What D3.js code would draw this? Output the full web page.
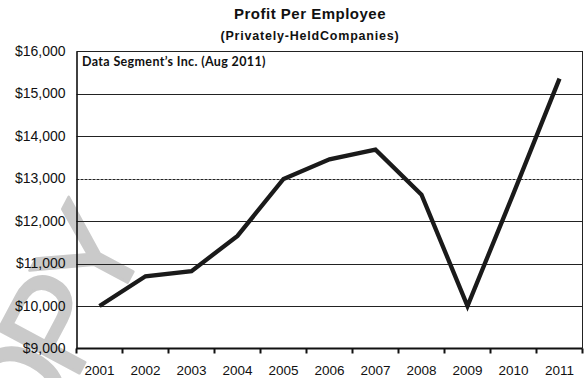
<!DOCTYPE html>
<html>
<head>
<meta charset="utf-8">
<script src="https://cdn.jsdelivr.net/npm/d3@7"></script>
<style>
  html, body { margin: 0; padding: 0; background: #fff; }
  svg { display: block; }
</style>
</head>
<body>
<svg id="chart" width="586" height="378"></svg>
<script>
// Profit per employee, privately-held companies
const years = ["2001", "2002", "2003", "2004", "2005", "2006", "2007", "2008", "2009", "2010", "2011"];
const profit = [10000, 10700, 10820, 11650, 12990, 13450, 13680, 12620, 10000, 12650, 15350];
const yTicks = [9000, 10000, 11000, 12000, 13000, 14000, 15000, 16000];

const W = 586, H = 378;
const plot = { left: 76.5, right: 582.5, top: 51, bottom: 348.5 };

const svg = d3.select("#chart");

const x = d3.scaleBand().domain(years).range([plot.left, plot.right]).padding(0);
const y = d3.scaleLinear().domain([9000, 16000]).range([plot.bottom, plot.top]);

// Faint diagonal watermark behind everything
svg.append("text")
  .attr("transform", "translate(145,250) rotate(-62)")
  .attr("text-anchor", "end")
  .attr("font-family", "Liberation Sans, Arial, sans-serif")
  .attr("font-size", 134)
  .attr("letter-spacing", -14)
  .attr("fill", "#cacaca")
  .attr("stroke", "#cacaca")
  .attr("stroke-width", 2.5)
  .attr("stroke-linejoin", "round")
  .text("COPY");

// Titles
svg.append("text")
  .attr("x", 310).attr("y", 19)
  .attr("text-anchor", "middle")
  .attr("font-family", "Liberation Sans, Arial, sans-serif")
  .attr("font-weight", "bold")
  .attr("font-size", 15)
  .attr("letter-spacing", 0.5)
  .attr("fill", "#111")
  .text("Profit Per Employee");

svg.append("text")
  .attr("x", 310).attr("y", 40)
  .attr("text-anchor", "middle")
  .attr("font-family", "Liberation Sans, Arial, sans-serif")
  .attr("font-weight", "bold")
  .attr("font-size", 12.5)
  .attr("letter-spacing", 0.8)
  .attr("fill", "#111")
  .text("(Privately-HeldCompanies)");

// Horizontal gridlines
svg.append("g")
  .selectAll("line")
  .data(yTicks.filter(d => d > 9000))
  .join("line")
  .attr("x1", plot.left).attr("x2", plot.right)
  .attr("y1", d => Math.round(y(d)) + 0.5).attr("y2", d => Math.round(y(d)) + 0.5)
  .attr("stroke", "#222")
  .attr("stroke-width", 1)
  .attr("stroke-dasharray", d => d === 13000 ? "3,1" : null);

// Right border
svg.append("line")
  .attr("x1", plot.right).attr("x2", plot.right)
  .attr("y1", plot.top).attr("y2", plot.bottom)
  .attr("stroke", "#222").attr("stroke-width", 1);

// Y axis with dollar labels
const yAxis = d3.axisLeft(y)
  .tickValues(yTicks)
  .tickSize(0)
  .tickPadding(11)
  .tickFormat(d => "$" + d3.format(",")(d));

const gy = svg.append("g")
  .attr("transform", `translate(${plot.left},0)`)
  .call(yAxis);
gy.select(".domain").attr("stroke", "#111").attr("stroke-width", 1.6);
gy.selectAll("text")
  .attr("font-family", "Liberation Sans, Arial, sans-serif")
  .attr("font-size", 14)
  .attr("fill", "#111");

// X axis: ticks at category boundaries, labels centered in each band
const gx = svg.append("g")
  .attr("transform", `translate(0,${plot.bottom})`);
gx.append("line")
  .attr("x1", plot.left).attr("x2", plot.right)
  .attr("stroke", "#111").attr("stroke-width", 2);
const bounds = years.map(d => x(d)).concat([x(years[years.length - 1]) + x.bandwidth()]);
gx.selectAll("line.tick")
  .data(bounds)
  .join("line")
  .attr("class", "tick")
  .attr("x1", d => d).attr("x2", d => d)
  .attr("y1", 0).attr("y2", 5)
  .attr("stroke", "#111").attr("stroke-width", 2);
gx.selectAll("text")
  .data(years)
  .join("text")
  .attr("x", d => x(d) + x.bandwidth() / 2)
  .attr("y", 26)
  .attr("text-anchor", "middle")
  .attr("font-family", "Liberation Sans, Arial, sans-serif")
  .attr("font-size", 13.5)
  .attr("fill", "#111")
  .text(d => d);

// Source note inside plot
svg.append("text")
  .attr("x", 82).attr("y", 66)
  .attr("font-family", "Lato, 'Open Sans', sans-serif")
  .attr("font-weight", "bold")
  .attr("font-size", 12.5)
  .attr("letter-spacing", 0.35)
  .attr("fill", "#111")
  .text("Data Segment\u2019s Inc. (Aug 2011)");

// Profit line
const line = d3.line()
  .x((d, i) => x(years[i]) + x.bandwidth() / 2)
  .y(d => y(d));

svg.append("path")
  .datum(profit)
  .attr("d", line)
  .attr("fill", "none")
  .attr("stroke", "#1a1a1a")
  .attr("stroke-width", 4.3)
  .attr("stroke-linejoin", "miter");
</script>
</body>
</html>
